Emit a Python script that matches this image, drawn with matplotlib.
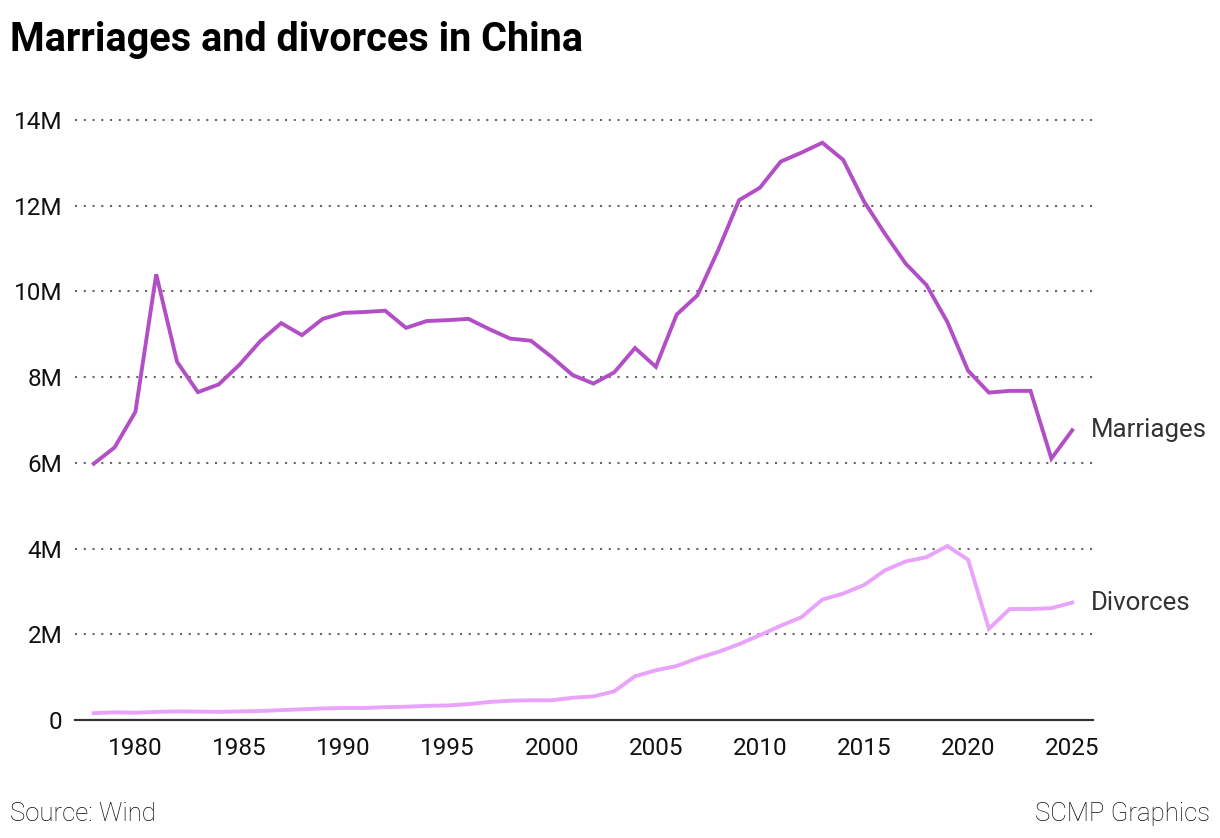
import matplotlib

matplotlib.use("Agg")
import matplotlib.pyplot as plt

plt.rcParams["font.family"] = ["Roboto", "DejaVu Sans"]

# values in millions
years = list(range(1978, 2026))
marriages = [
    5.98, 6.36, 7.19, 10.40, 8.36, 7.65, 7.83, 8.29, 8.84, 9.26,
    8.98, 9.36, 9.50, 9.52, 9.55, 9.15, 9.31, 9.33, 9.36, 9.12,
    8.90, 8.85, 8.47, 8.05, 7.85, 8.11, 8.68, 8.24, 9.46, 9.91,
    10.97, 12.13, 12.42, 13.03, 13.24, 13.47, 13.07, 12.10, 11.35, 10.65,
    10.15, 9.29, 8.15, 7.64, 7.68, 7.68, 6.10, 6.76,
]
divorces = [
    0.16, 0.18, 0.17, 0.19, 0.20, 0.195, 0.19, 0.20, 0.21, 0.23,
    0.25, 0.27, 0.28, 0.28, 0.30, 0.31, 0.33, 0.34, 0.37, 0.42,
    0.45, 0.46, 0.46, 0.52, 0.55, 0.67, 1.02, 1.16, 1.26, 1.44,
    1.59, 1.77, 1.98, 2.20, 2.40, 2.81, 2.95, 3.15, 3.49, 3.70,
    3.80, 4.06, 3.74, 2.13, 2.59, 2.59, 2.61, 2.74,
]
y_ticks = [0, 2, 4, 6, 8, 10, 12, 14]
y_labels = ["0", "2M", "4M", "6M", "8M", "10M", "12M", "14M"]
x_ticks = [1980, 1985, 1990, 1995, 2000, 2005, 2010, 2015, 2020, 2025]

MARRIAGE_COLOR = "#b34fc6"
DIVORCE_COLOR = "#e9a3fb"

fig = plt.figure(figsize=(12.2, 8.38), dpi=100)
ax = fig.add_axes([0.0615, 0.1408, 0.8344, 0.716])

ax.plot(years, marriages, color=MARRIAGE_COLOR, lw=2.8, solid_joinstyle="miter", clip_on=False, zorder=3)
ax.plot(years, divorces, color=DIVORCE_COLOR, lw=2.8, solid_joinstyle="miter", clip_on=False, zorder=3)

ax.set_xlim(1977.1, 2026.0)
ax.set_ylim(0, 14)

ax.set_yticks(y_ticks)
ax.set_yticklabels(y_labels)
ax.set_xticks(x_ticks)
for y in y_ticks[1:]:
    ax.axhline(y, color="#666666", lw=1.5, linestyle=(0, (1, 3.2)), zorder=1, clip_on=False)

for side in ["top", "right", "left"]:
    ax.spines[side].set_visible(False)
ax.spines["bottom"].set_color("#333333")
ax.spines["bottom"].set_linewidth(1.6)
ax.tick_params(axis="y", length=0, pad=9, labelsize=17.5, labelcolor="#111111")
ax.tick_params(axis="x", length=0, pad=12, labelsize=17.5, labelcolor="#111111")

ax.text(years[-1] + 0.9, marriages[-1], "Marriages", fontsize=18.6, color="#333333", va="center", ha="left")
ax.text(years[-1] + 0.9, divorces[-1], "Divorces", fontsize=18.6, color="#333333", va="center", ha="left")

fig.text(0.008, 0.952, "Marriages and divorces in China", fontsize=28.5, fontweight="bold",
         color="#000000", ha="left", va="center")
fig.text(0.008, 0.029, "Source: Wind", fontsize=18.5, fontweight="light", color="#0a0a0a",
         ha="left", va="center")
fig.text(0.992, 0.029, "SCMP Graphics", fontsize=18.5, fontweight="light", color="#0a0a0a",
         ha="right", va="center")

fig.savefig("out.png", dpi=100, facecolor="white")
plt.close(fig)
